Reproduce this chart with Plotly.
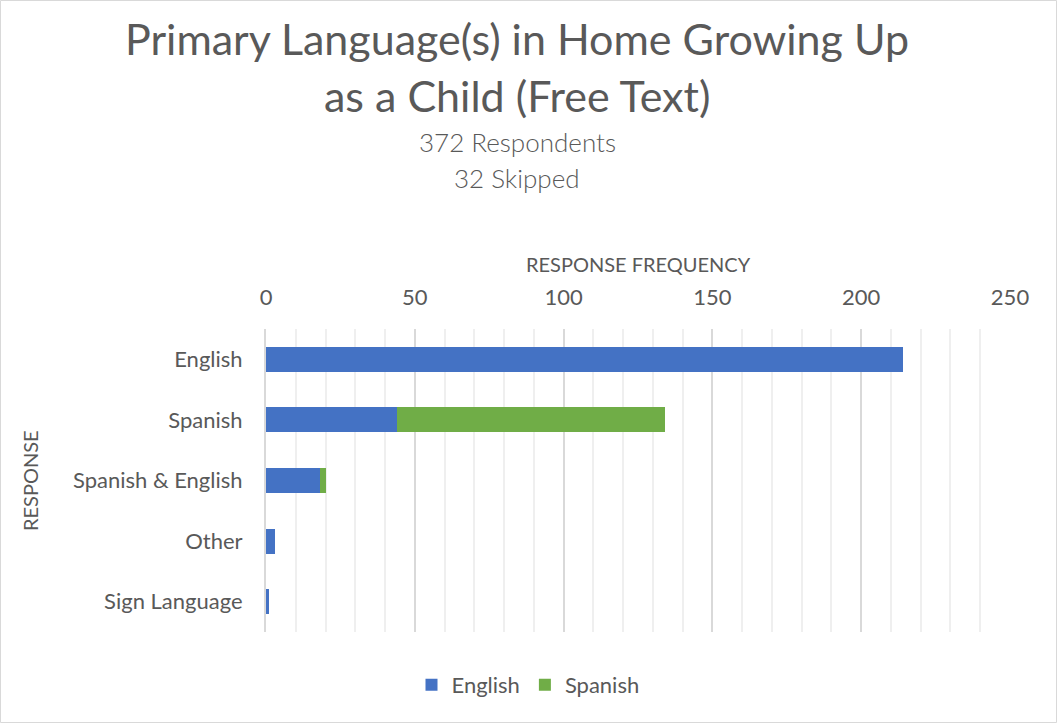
import plotly.graph_objects as go

categories = ["English", "Spanish", "Spanish & English", "Other", "Sign Language"]
english_vals = [214, 44, 18, 3, 1]
spanish_vals = [0, 90, 2, 0, 0]
x_ticks = [0, 50, 100, 150, 200, 250]

title_line1 = "Primary Language(s) in Home Growing Up"
title_line2 = "as a Child (Free Text)"
sub1 = "372 Respondents"
sub2 = "32 Skipped"
x_title = "RESPONSE FREQUENCY"
y_title = "RESPONSE"

FONT = "Lato"
GREY = "#595959"

W, H = 1057, 723
L, R, T, B = 266, 47, 329, 91

fig = go.Figure()
fig.add_trace(go.Bar(y=categories, x=english_vals, name="English", orientation="h",
                     marker=dict(color="#4472C4", line=dict(width=0))))
fig.add_trace(go.Bar(y=categories, x=spanish_vals, name="Spanish", orientation="h",
                     marker=dict(color="#70AD47", line=dict(width=0))))

pw = W - L - R
ph = H - T - B
def px(x):
    return (x - L) / pw
def py(y):
    return (H - B - y) / ph

annos = [
    dict(text=title_line1, x=517, y=38, size=43, rot=0, w=400),
    dict(text=title_line2, x=517, y=96, size=43, rot=0, w=400),
    dict(text=sub1, x=517, y=142, size=26, rot=0, w=300),
    dict(text=sub2, x=517, y=178, size=26, rot=0, w=300),
    dict(text=x_title, x=638, y=264, size=20, rot=0, w=400),
    dict(text=y_title, x=30, y=481, size=20, rot=-90, w=400),
]
annotations = []
for a in annos:
    annotations.append(dict(text=a["text"], x=px(a["x"]), y=py(a["y"]), xref="paper", yref="paper",
                            xanchor="center", yanchor="middle", showarrow=False, textangle=a["rot"],
                            font=dict(family=FONT, size=a["size"], color=GREY, weight=a["w"])))

fig.update_layout(
    width=W, height=H,
    margin=dict(l=L, r=R, t=T, b=B, pad=0),
    paper_bgcolor="white", plot_bgcolor="white",
    barmode="stack", bargap=0.59,
    font=dict(family=FONT, color=GREY, size=22),
    annotations=annotations,
    showlegend=True,
    legend=dict(orientation="h", x=px(528), y=py(685), xanchor="center", yanchor="middle",
                font=dict(family=FONT, size=22, color=GREY), traceorder="normal"),
    shapes=[dict(type="rect", xref="paper", yref="paper",
                 x0=px(0.5), x1=px(W - 0.5), y0=py(0.5), y1=py(H - 0.5),
                 line=dict(color="#d9d9d9", width=1), layer="below")],
)

fig.update_xaxes(
    side="top", range=[0, 250], tickvals=x_ticks,
    tickfont=dict(family=FONT, size=22, color=GREY),
    showgrid=True, gridcolor="#d9d9d9", gridwidth=1.5,
    minor=dict(dtick=10, showgrid=True, gridcolor="#efefef", gridwidth=1.5),
    zeroline=False, showline=False, ticks="", ticklabelstandoff=19,
)
fig.update_yaxes(
    autorange="reversed", categoryorder="array", categoryarray=categories,
    tickfont=dict(family=FONT, size=22, color=GREY),
    showline=True, linecolor="#d9d9d9", linewidth=2,
    showgrid=False, ticks="", ticklabelstandoff=17,
)

fig.write_html("out.html", config={"displayModeBar": False},
               post_script="document.body.style.margin='0px';")
